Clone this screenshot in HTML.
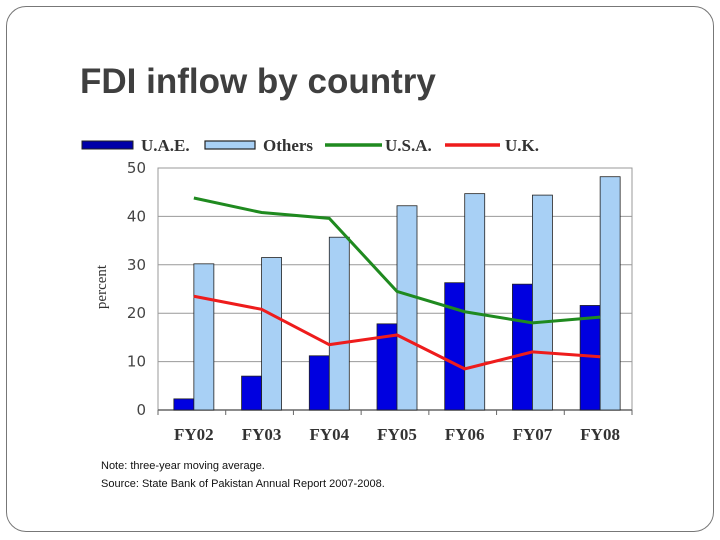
<!DOCTYPE html>
<html><head><meta charset="utf-8"><style>
body{margin:0;width:720px;height:540px;background:#fff;position:relative;overflow:hidden;font-family:"Liberation Sans",sans-serif}
#frame{position:absolute;left:6px;top:6px;width:706px;height:524px;border:1.5px solid #777;border-radius:20px}
#title{position:absolute;left:80px;top:62px;font-size:35px;font-weight:bold;color:#3f3f3f}
.note{position:absolute;left:101px;font-size:11px;color:#111}
</style></head><body>
<div id="frame"></div>
<div id="title">FDI inflow by country</div>
<svg id="chart" width="720" height="540" style="position:absolute;left:0;top:0"></svg>
<div class="note" style="top:460px">Note: three-year moving average.</div>
<div class="note" style="top:478px">Source: State Bank of Pakistan Annual Report 2007-2008.</div>
<script>
const categories=["FY02","FY03","FY04","FY05","FY06","FY07","FY08"];
const uae=[2.3,7,11.2,17.8,26.3,26,21.6];
const others=[30.2,31.5,35.7,42.2,44.7,44.4,48.2];
const usa=[43.8,40.8,39.6,24.5,20.3,18,19.2];
const uk=[23.5,20.8,13.5,15.5,8.5,12,11];
const yTicks=[0,10,20,30,40,50];
const NS="http://www.w3.org/2000/svg";
const svg=document.getElementById('chart');
const L=158,R=632,T=168,B=410;
const y=v=>B-(v/50)*(B-T);
const gw=(R-L)/7;
const xc=i=>L+gw*(i+0.5);
function mk(tag,at){const e=document.createElementNS(NS,tag);for(const k in at)e.setAttribute(k,at[k]);svg.appendChild(e);return e;}
let e;
e=mk('rect',{x:L,y:T,width:R-L,height:B-T,fill:'#fff',stroke:'#999','stroke-width':1});

yTicks.forEach(t=>{
 e=mk('line',{x1:L,x2:R,y1:y(t),y2:y(t),stroke:'#999','stroke-width':1});
 
 e=mk('text',{x:L-12,y:y(t)+5,'text-anchor':'end','font-size':15,fill:'#444','font-family':'DejaVu Sans, sans-serif'});e.textContent=t;
 
});
e=mk('line',{x1:L,x2:R,y1:B,y2:B,stroke:'#666','stroke-width':1.5});

for(let i=0;i<=7;i++){e=mk('line',{x1:L+gw*i,x2:L+gw*i,y1:B,y2:B+5,stroke:'#666'});
 }
e=mk('text',{x:0,y:0,transform:'translate(106,287) rotate(-90)','text-anchor':'middle','font-size':15,fill:'#333','font-family':'Liberation Serif, serif'});e.textContent='percent';

categories.forEach((c,i)=>{
 const cx=xc(i)+2;
 e=mk('rect',{x:cx-20,y:y(uae[i]),width:20,height:B-y(uae[i]),fill:'#0000e0',stroke:'#222','stroke-width':0.8});
 
 e=mk('rect',{x:cx,y:y(others[i]),width:20,height:B-y(others[i]),fill:'#a8d0f5',stroke:'#222','stroke-width':0.8});
 
 e=mk('text',{x:cx,y:B+30,'text-anchor':'middle','font-size':17,'font-weight':'bold',fill:'#333','font-family':'Liberation Serif, serif'});e.textContent=c;
 
});
function line(vals,col,name){
 e=mk('polyline',{points:vals.map((v,i)=>(xc(i)+2)+','+y(v)).join(' '),fill:'none',stroke:col,'stroke-width':3});
 
}
line(usa,'#1f8a1f','line-usa');line(uk,'#ee1c1c','line-uk');
e=mk('rect',{x:82,y:141,width:51,height:8,fill:'#0000a8',stroke:'#222','stroke-width':1});

e=mk('rect',{x:205,y:141,width:50,height:8,fill:'#a8d0f5',stroke:'#222','stroke-width':1.2});

e=mk('line',{x1:325,x2:382,y1:145,y2:145,stroke:'#1f8a1f','stroke-width':3.5});

e=mk('line',{x1:445,x2:500,y1:145,y2:145,stroke:'#ee1c1c','stroke-width':3.5});

[['U.A.E.',141],['Others',263],['U.S.A.',385],['U.K.',505]].forEach(t=>{
 e=mk('text',{x:t[1],y:151,'font-size':17,'font-weight':'bold',fill:'#333','font-family':'Liberation Serif, serif'});e.textContent=t[0];
 
});
</script>
</body></html>
